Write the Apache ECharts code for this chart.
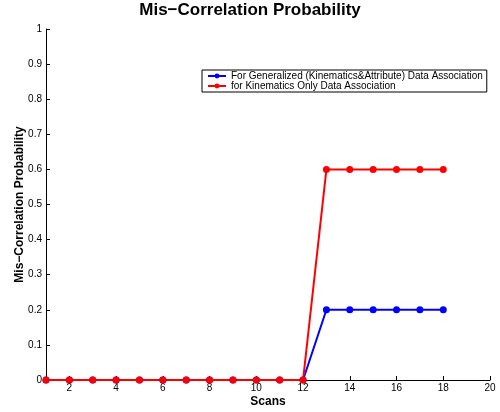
<!DOCTYPE html>
<html><head><meta charset="utf-8">
<script src="https://cdn.jsdelivr.net/npm/echarts@6/dist/echarts.min.js"></script>
<style>html,body{margin:0;padding:0;background:#fff}#c{width:500px;height:412px}</style>
</head><body><div id="c"></div>
<script>
const scans = [1,2,3,4,5,6,7,8,9,10,11,12,13,14,15,16,17,18];
const generalized = [0,0,0,0,0,0,0,0,0,0,0,0,0.2,0.2,0.2,0.2,0.2,0.2];
const kinematicsOnly = [0,0,0,0,0,0,0,0,0,0,0,0,0.6,0.6,0.6,0.6,0.6,0.6];
const xTicks = [2,4,6,8,10,12,14,16,18,20];
const seriesNames = ['For Generalized (Kinematics&Attribute) Data Association','for Kinematics Only Data Association'];
const font = 'Liberation Sans, Arial, Helvetica, sans-serif';
const chart = echarts.init(document.getElementById('c'));
const mk = (name, vals, color) => ({
  name, type:'line', data: scans.map((s,i)=>[s, vals[i]]),
  symbol:'circle', symbolSize:7, itemStyle:{color},
  lineStyle:{color, width:2}, animation:false
});
chart.setOption({
  animation:false,
  title:{text:'Mis\u2212Correlation Probability', left:'center', top:0, padding:[2,0,0,0],
    textStyle:{fontFamily:font, fontSize:17, fontWeight:'bold', color:'#000'}},
  legend:{orient:'vertical', left:202, top:70, itemGap:0, itemWidth:18, itemHeight:6,
    borderColor:'#000', borderWidth:1, padding:[1,4,1,5], backgroundColor:'#fff',
    textStyle:{fontFamily:font, fontSize:10, lineHeight:10, color:'#000', padding:[0,0,0,0]},
    data: seriesNames},
  grid:{left:46, right:10, top:29, bottom:32, containLabel:false, outerBoundsMode:'none'},
  xAxis:{type:'value', min:1, max:20, name:'Scans', nameLocation:'middle', nameGap:16,
    nameMoveOverlap:false,
    nameTextStyle:{fontFamily:font, fontSize:12, fontWeight:'bold', color:'#000'},
    axisLine:{lineStyle:{color:'#000', width:1}},
    axisTick:{inside:true, length:4, customValues:xTicks, lineStyle:{color:'#000'}},
    axisLabel:{customValues:xTicks, fontFamily:font, fontSize:10, color:'#000', margin:3},
    splitLine:{show:false}},
  yAxis:{type:'value', min:0, max:1, interval:0.1, name:'Mis\u2212Correlation Probability',
    nameLocation:'middle', nameGap:20, nameMoveOverlap:false,
    nameTextStyle:{fontFamily:font, fontSize:12, fontWeight:'bold', color:'#000'},
    axisLine:{show:true, lineStyle:{color:'#000', width:1}},
    axisTick:{show:true, inside:true, length:4, lineStyle:{color:'#000'}},
    axisLabel:{fontFamily:font, fontSize:10, color:'#000', margin:4,
      formatter:v=>String(Math.round(v*10)/10)},
    splitLine:{show:false}},
  series:[mk(seriesNames[0], generalized, '#0000ff'), mk(seriesNames[1], kinematicsOnly, '#ff0000')]
});
</script></body></html>
